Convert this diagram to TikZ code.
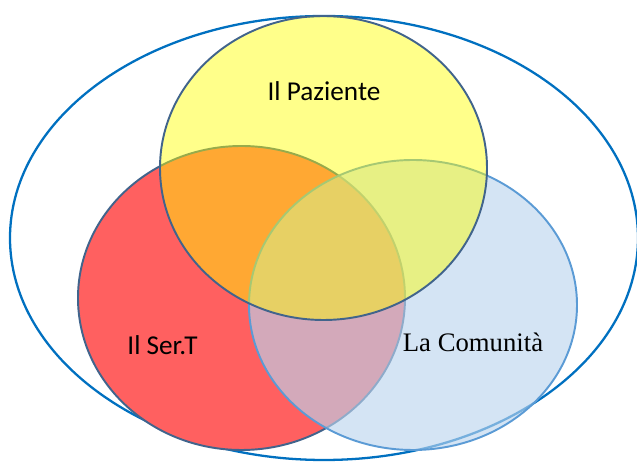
\documentclass[tikz,border=0pt]{standalone}
\usepackage{fontspec}
\setmainfont{Liberation Serif}
\newfontfamily\calibri{Carlito}
\definecolor{bordo}{RGB}{65,100,140}
\definecolor{azzurro}{RGB}{91,155,213}
\definecolor{esterno}{RGB}{0,112,192}
\definecolor{rosso}{RGB}{255,96,96}
\definecolor{celeste}{RGB}{187,212,238}
\definecolor{giallo}{RGB}{255,255,0}
\begin{document}
\begin{tikzpicture}[x=0.02cm,y=-0.02cm,
   insieme/.style={line width=1.1pt},
   etichetta/.style={anchor=base,font=\fontsize{15.2}{18}\selectfont},
   sans/.style={font=\calibri\fontsize{15.5}{18}\selectfont}]
   \useasboundingbox (0,0) rectangle (637,462);
   % cornice esterna
   \draw[color=esterno,line width=1.3pt] (324,238) ellipse[x radius=314,y radius=222];
   % i tre insiemi
   \draw[insieme,color=bordo,fill=rosso] (241.5,298) ellipse[x radius=163.5,y radius=152];
   \draw[insieme,color=azzurro,fill=celeste,fill opacity=.635] (413,305) ellipse[x radius=164,y radius=145];
   \draw[insieme,color=bordo,fill=giallo,fill opacity=.46] (323.5,168) ellipse[x radius=163.5,y radius=152];
   \node[etichetta,sans] (paziente) at (324,100.5) {Il Paziente};
   \node[etichetta,sans] (sert) at (162.5,355) {Il Ser.T};
   \node[etichetta] (comunita) at (473,352) {La Comunità};
 \end{tikzpicture}
\end{document}
